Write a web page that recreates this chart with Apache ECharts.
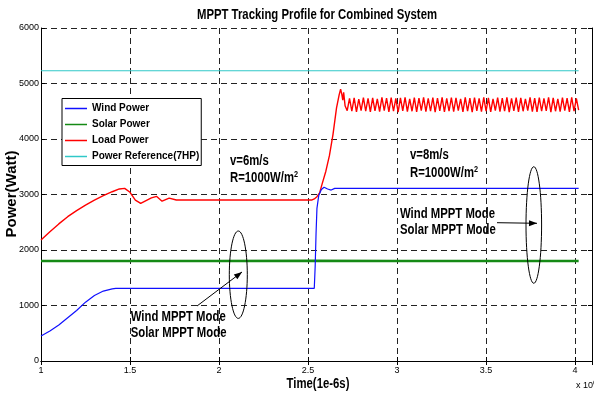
<!DOCTYPE html>
<html>
<head>
<meta charset="utf-8">
<script src="https://cdn.jsdelivr.net/npm/echarts@6/dist/echarts.min.js"></script>
<style>
  html, body { margin: 0; padding: 0; background: #fff; }
  #chart { width: 594px; height: 394px; }
</style>
</head>
<body>
<div id="chart"></div>
<script>
// Axis ticks
const xTicks = [1, 1.5, 2, 2.5, 3, 3.5, 4];
const yTicks = [0, 1000, 2000, 3000, 4000, 5000, 6000];

// Wind power (W) against time (x 1e6, in 1e-6 s)
const windTime  = [1.00, 1.05, 1.10, 1.15, 1.20, 1.25, 1.30, 1.35, 1.40, 1.42, 2.535, 2.540, 2.545, 2.550, 2.560, 2.575, 2.590, 2.610, 2.630, 2.650, 4.020];
const windPower = [450,  540,  650,  780,  910,  1060, 1180, 1260, 1300, 1310, 1310,  1700,  2300,  2750,  2980,  3090,  3130,  3100,  3080,  3110,  3110];

// Solar power (W)
const solarTime  = [1.00, 1.50, 2.00, 2.50, 3.00, 3.50, 4.02];
const solarPower = [1800, 1800, 1800, 1805, 1800, 1800, 1800];

// Load power (W): start-up, settling, step at v=8m/s and steady ripple
const loadTime = [
  1.00, 1.05, 1.10, 1.15, 1.20, 1.25, 1.30, 1.35, 1.40, 1.44, 1.47, 1.50, 1.53, 1.56, 1.59, 1.62, 1.65, 1.68, 1.72, 1.76,
  2.00, 2.30, 2.52, 2.535, 2.55, 2.565, 2.58, 2.60, 2.62, 2.64, 2.66, 2.675, 2.683, 2.69, 2.695, 2.70, 2.708,
  2.720, 2.733, 2.746, 2.759, 2.772, 2.785, 2.798, 2.811, 2.824, 2.837,
  2.850, 2.863, 2.876, 2.889, 2.902, 2.915, 2.928, 2.941, 2.954, 2.967,
  2.980, 2.993, 3.006, 3.019, 3.032, 3.045, 3.058, 3.071, 3.084, 3.097,
  3.110, 3.123, 3.136, 3.149, 3.162, 3.175, 3.188, 3.201, 3.214, 3.227,
  3.240, 3.253, 3.266, 3.279, 3.292, 3.305, 3.318, 3.331, 3.344, 3.357,
  3.370, 3.383, 3.396, 3.409, 3.422, 3.435, 3.448, 3.461, 3.474, 3.487,
  3.500, 3.513, 3.526, 3.539, 3.552, 3.565, 3.578, 3.591, 3.604, 3.617,
  3.630, 3.643, 3.656, 3.669, 3.682, 3.695, 3.708, 3.721, 3.734, 3.747,
  3.760, 3.773, 3.786, 3.799, 3.812, 3.825, 3.838, 3.851, 3.864, 3.877,
  3.890, 3.903, 3.916, 3.929, 3.942, 3.955, 3.968, 3.981, 3.994, 4.007, 4.020
];
const loadPower = [
  2180, 2330, 2470, 2600, 2710, 2810, 2900, 2980, 3050, 3100, 3110, 3040, 2900, 2840, 2890, 2940, 2965, 2880, 2935, 2900,
  2900, 2900, 2900, 2920, 2960, 3030, 3200, 3420, 3700, 4080, 4560, 4800, 4900, 4800, 4700, 4840, 4600,
  4510, 4730, 4500, 4740, 4490, 4720, 4510, 4745, 4500, 4730,
  4490, 4740, 4505, 4725, 4495, 4750, 4510, 4735, 4490, 4745,
  4500, 4730, 4485, 4740, 4505, 4750, 4495, 4725, 4500, 4745,
  4490, 4735, 4510, 4750, 4495, 4730, 4500, 4745, 4485, 4735,
  4505, 4750, 4490, 4730, 4500, 4745, 4495, 4740, 4510, 4725,
  4490, 4750, 4500, 4735, 4485, 4745, 4505, 4730, 4495, 4750,
  4500, 4740, 4490, 4725, 4510, 4745, 4495, 4735, 4500, 4750,
  4485, 4730, 4505, 4745, 4490, 4740, 4500, 4725, 4510, 4750,
  4495, 4735, 4490, 4745, 4500, 4730, 4505, 4750, 4485, 4740,
  4500, 4725, 4495, 4745, 4510, 4735, 4490, 4750, 4500, 4730, 4520
];

// Power reference (7HP)
const refTime  = [1.00, 4.02];
const refPower = [5230, 5230];

const zip = (t, p) => t.map((v, i) => [v, p[i]]);

const FONT = "'Liberation Sans', Arial, Helvetica, sans-serif";
const NARROW = 0.81;   // horizontal squeeze for the condensed bold lettering
const xInterval = xTicks[1] - xTicks[0];
const yInterval = yTicks[1] - yTicks[0];
const xMin = xTicks[0], xMax = 4.095;
const yMin = yTicks[0], yMax = yTicks[yTicks.length - 1];

const dashed = { show: true, lineStyle: { color: '#222', type: [6, 4], width: 1 } };

const chart = echarts.init(document.getElementById('chart'), null, { renderer: 'canvas' });

function arrowHead(x, y, angle) {
  const L = 8, W = 3;
  const c = Math.cos(angle), s = Math.sin(angle);
  return [[x, y], [x - L * c + W * s, y - L * s - W * c], [x - L * c - W * s, y - L * s + W * c]];
}

const leftArrow = { x1: 197, y1: 306, x2: 242, y2: 272 };
const rightArrow = { x1: 497, y1: 222.7, x2: 537, y2: 223.3 };
const angL = Math.atan2(leftArrow.y2 - leftArrow.y1, leftArrow.x2 - leftArrow.x1);
const angR = Math.atan2(rightArrow.y2 - rightArrow.y1, rightArrow.x2 - rightArrow.x1);

// Condensed bold label, squeezed around its anchor point
const narrowText = (x, y, text, align) => ({
  type: 'text', x, y, scaleX: NARROW, z: 100,
  style: { x: 0, y: 0, text, font: `bold 14px ${FONT}`, fill: '#000', verticalAlign: 'middle', align: align || 'left' }
});
const richR = (x, y) => ({
  type: 'text', x, y, scaleX: NARROW, z: 100,
  style: {
    x: 0, y: 0, text: '{a|R=1000W/m}{b|2}', verticalAlign: 'middle', align: 'left',
    rich: {
      a: { fontFamily: FONT, fontWeight: 'bold', fontSize: 14, fill: '#000', lineHeight: 16 },
      b: { fontFamily: FONT, fontWeight: 'bold', fontSize: 9, fill: '#000', verticalAlign: 'top', lineHeight: 10 }
    }
  }
});

chart.setOption({
  animation: false,
  backgroundColor: '#fff',
  grid: { left: 41, right: 2, top: 28, bottom: 33, containLabel: false, outerBoundsMode: 'none' },
  legend: {
    orient: 'vertical', left: 62, top: 98.5,
    icon: 'rect', itemWidth: 22, itemHeight: 1.5, itemGap: 2,
    padding: [3, 2, 2, 3],
    borderColor: '#000', borderWidth: 1, backgroundColor: '#fff',
    textStyle: { fontFamily: FONT, fontWeight: 'bold', fontSize: 10, lineHeight: 14, color: '#000' },
    data: ['Wind Power', 'Solar Power', 'Load Power', 'Power Reference(7HP)']
  },
  xAxis: [{
    type: 'value', min: xMin, max: xMax, interval: xInterval,
    axisLine: { show: true, lineStyle: { color: '#000', width: 1 } },
    axisTick: { show: true, inside: true, length: 4, lineStyle: { color: '#000' } },
    axisLabel: { fontFamily: FONT, fontSize: 9, color: '#000', margin: 5, showMaxLabel: false },
    splitLine: dashed
  }, {
    type: 'value', min: xMin, max: xMax, interval: xInterval, position: 'top',
    axisLine: { show: true, lineStyle: { color: '#000', width: 1 } },
    axisTick: { show: true, inside: true, length: 4, lineStyle: { color: '#000' } },
    axisLabel: { show: false }, splitLine: { show: false }
  }],
  yAxis: [{
    type: 'value', min: yMin, max: yMax, interval: yInterval,
    axisLine: { show: true, lineStyle: { color: '#000', width: 1 } },
    axisTick: { show: true, inside: true, length: 4, lineStyle: { color: '#000' } },
    axisLabel: { fontFamily: FONT, fontSize: 9, color: '#000', margin: 2, formatter: v => String(v) },
    splitLine: dashed
  }, {
    type: 'value', min: yMin, max: yMax, interval: yInterval, position: 'right',
    axisLine: { show: true, lineStyle: { color: '#000', width: 1 } },
    axisTick: { show: true, inside: true, length: 4, lineStyle: { color: '#000' } },
    axisLabel: { show: false }, splitLine: { show: false }
  }],
  series: [
    { name: 'Wind Power', type: 'line', data: zip(windTime, windPower), symbol: 'none',
      color: '#1010ff', lineStyle: { width: 1.2, color: '#1010ff' }, z: 3 },
    { name: 'Solar Power', type: 'line', data: zip(solarTime, solarPower), symbol: 'none',
      color: '#158a15', lineStyle: { width: 2.5, color: '#158a15' }, z: 2 },
    { name: 'Load Power', type: 'line', data: zip(loadTime, loadPower), symbol: 'none',
      color: '#ff0000', lineStyle: { width: 1.4, color: '#ff0000' }, z: 2 },
    { name: 'Power Reference(7HP)', type: 'line', data: zip(refTime, refPower), symbol: 'none',
      color: '#30c8c8', lineStyle: { width: 1.2, color: '#30c8c8' }, z: 2 }
  ],
  graphic: [
    narrowText(317, 15, 'MPPT Tracking Profile for Combined System', 'center'),
    narrowText(318, 384, 'Time(1e-6s)', 'center'),
    { type: 'text', x: 12, y: 194, rotation: Math.PI / 2, z: 100,
      style: { x: 0, y: 0, text: 'Power(Watt)', font: `bold 15px ${FONT}`, fill: '#000', align: 'center', verticalAlign: 'middle' } },
    narrowText(230, 161, 'v=6m/s'),
    richR(230, 177.7),
    narrowText(410, 155, 'v=8m/s'),
    richR(410, 172.7),
    narrowText(130.7, 317.3, 'Wind MPPT Mode'),
    narrowText(130.7, 333.3, 'Solar MPPT Mode'),
    narrowText(400, 214, 'Wind MPPT Mode'),
    narrowText(400, 230, 'Solar MPPT Mode'),
    { type: 'ellipse', z: 100, shape: { cx: 238.3, cy: 274.7, rx: 9, ry: 43.7 }, style: { fill: 'none', stroke: '#000', lineWidth: 1 } },
    { type: 'ellipse', z: 100, shape: { cx: 533.8, cy: 225, rx: 7.8, ry: 58.3 }, style: { fill: 'none', stroke: '#000', lineWidth: 1 } },
    { type: 'line', z: 100, shape: leftArrow, style: { stroke: '#000', lineWidth: 1 } },
    { type: 'polygon', z: 100, shape: { points: arrowHead(leftArrow.x2, leftArrow.y2, angL) }, style: { fill: '#000' } },
    { type: 'line', z: 100, shape: rightArrow, style: { stroke: '#000', lineWidth: 1 } },
    { type: 'polygon', z: 100, shape: { points: arrowHead(rightArrow.x2, rightArrow.y2, angR) }, style: { fill: '#000' } },
    { type: 'text', x: 576, y: 386, z: 100,
      style: { x: 0, y: 0, text: '{a|x 10}{b|6}', verticalAlign: 'middle', align: 'left',
        rich: { a: { fontFamily: FONT, fontSize: 9, fill: '#000', lineHeight: 12 },
                b: { fontFamily: FONT, fontSize: 7, fill: '#000', verticalAlign: 'top', lineHeight: 8 } } } }
  ]
});
</script>
</body>
</html>
